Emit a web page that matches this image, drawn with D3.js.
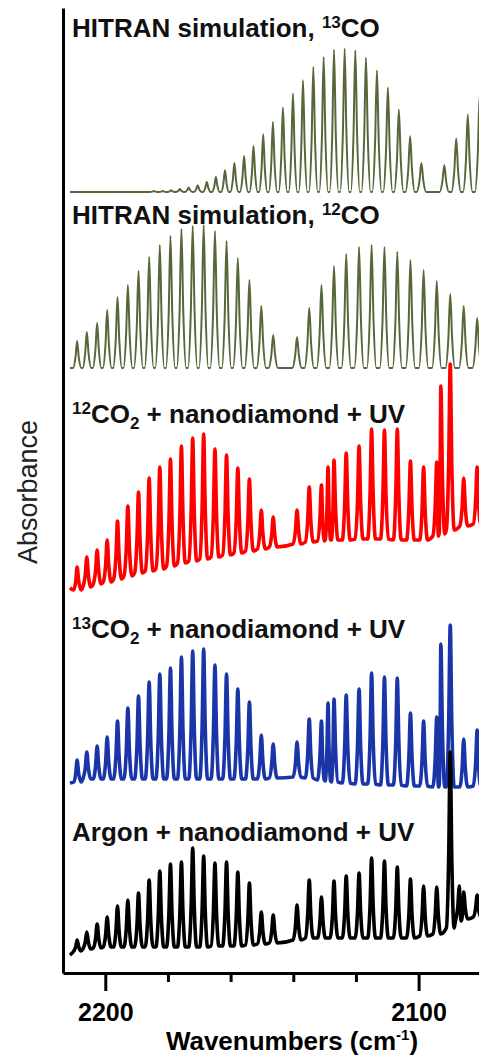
<!DOCTYPE html>
<html>
<head>
<meta charset="utf-8">
<script src="https://cdn.jsdelivr.net/npm/d3@7"></script>
<style>
  body { margin: 0; background: #fff; }
  svg { display: block; font-family: Arial, "Liberation Sans", sans-serif; }
</style>
</head>
<body>
<svg id="chart"></svg>
<script>
// x ticks (wavenumbers, cm-1)
const majorTicks = [2200, 2100];
const minorTicks = [2180, 2160, 2140, 2120, 2080];

// HITRAN 13CO line positions (R27..R0, P1..P5) and heights
const co13Lines = [2184.5, 2181.7, 2179.0, 2176.2, 2173.4, 2170.5, 2167.6, 2164.7, 2161.8, 2158.8,
  2155.7, 2152.7, 2149.6, 2146.5, 2143.3, 2140.1, 2136.9, 2133.6, 2130.3, 2127.0,
  2123.6, 2120.2, 2116.8, 2113.3, 2109.8, 2106.3, 2102.7, 2099.1,
  2091.8, 2088.0, 2084.3, 2080.5, 2076.7];
const co13Heights = [1, 1, 1.7, 3, 4.4, 6.7, 10, 15, 21.7, 29,
  36, 46, 57.7, 70, 84.4, 98.4, 111.7, 125, 135, 142.4,
  143.4, 141.7, 134.4, 121.7, 104.4, 82.4, 55.7, 29,
  26.7, 53.4, 77.4, 97, 110];
const co13Base = 781;

// HITRAN 12CO line positions (R18..R0, P1..P16) and heights
const co12Lines = [2209.0, 2205.9, 2202.6, 2199.4, 2196.1, 2192.8, 2189.4, 2186.0, 2182.6, 2179.2,
  2175.7, 2172.1, 2168.6, 2165.0, 2161.3, 2157.7, 2154.0, 2150.2, 2146.4,
  2138.8, 2134.9, 2131.0, 2127.0, 2123.1, 2119.0, 2115.0, 2110.9, 2106.8, 2102.6,
  2098.4, 2094.2, 2089.9, 2085.6, 2081.3, 2076.9];
const co12Heights = [27, 36, 45, 58, 71, 83, 97, 111, 123, 132,
  139, 142, 143, 137, 127, 110, 88, 62, 33,
  31, 60, 83, 102, 114, 121, 123, 121, 116, 108,
  98, 87, 74, 62, 50, 39];
const co12Base = 605;

// measured spectra: peak positions, peak tops, local floors, [start, end] levels
const expLines = [2209.0, 2205.9, 2202.6, 2199.4, 2196.1, 2192.8, 2189.4, 2186.0, 2182.6, 2179.2,
  2175.7, 2172.1, 2168.6, 2165.0, 2161.3, 2157.7, 2154.0, 2150.2, 2146.4,
  2138.8, 2134.9, 2131.0, 2128.9, 2127.0, 2123.1, 2119.0, 2115.0, 2110.9, 2106.8,
  2102.6, 2098.4, 2094.2, 2092.9, 2089.9, 2085.6, 2081.3];

const redTops = [406, 416, 423, 433, 452, 467, 481, 495, 506, 514,
  527, 535, 539, 524, 518, 505, 494, 463, 456,
  463, 486, 488, 506, 513, 520, 527, 544, 543, 544,
  512, 506, 511, 587, 609, 495, 506];
const redFloors = [383, 386, 389, 391, 394, 397, 400, 402, 404, 407,
  410, 412, 414, 416, 418, 420, 422, 424, 426,
  429, 431, 432, 433, 433, 433, 434, 434, 434, 433,
  433, 433, 437, 439, 443, 447, 449];
const redEnds = [385, 450];

const blueTops = [213, 221, 227, 236, 252, 265, 277, 291, 299, 305,
  316, 322, 324, 308, 299, 284, 271, 238, 229,
  231, 254, 252, 270, 274, 278, 284, 300, 296, 295,
  260, 252, 256, 329, 348, 234, 243];
const blueFloors = [191, 194, 194, 194, 194, 194, 194, 194, 194, 194,
  194, 194, 194, 194, 194, 194, 194, 194, 195,
  196, 195, 193, 192, 191, 190, 189, 189, 188, 188,
  187, 187, 186, 186, 186, 186, 187];
const blueEnds = [190, 187];

const argonLines = [2209.0, 2205.9, 2202.6, 2199.4, 2196.1, 2192.8, 2189.4, 2186.0, 2182.6, 2179.2,
  2175.7, 2172.1, 2168.6, 2165.0, 2161.3, 2157.7, 2154.0, 2150.2, 2146.4,
  2138.8, 2134.9, 2131.0, 2127.0, 2123.1, 2119.0, 2115.0, 2110.9, 2106.8, 2102.6,
  2098.4, 2094.2, 2089.9, 2087.0, 2085.6, 2081.3];
const argonTops = [33, 41, 49, 56, 67, 73, 80, 93, 102, 109,
  111, 125, 117, 110, 111, 101, 90, 61, 58,
  68, 93, 76, 92, 97, 100, 115, 112, 106, 94,
  87, 86, 221, 87, 81, 78];
const argonFloors = [22, 24, 25, 26, 26, 26, 26, 26, 26, 26,
  26, 26, 26, 27, 27, 27, 28, 29, 30,
  33, 35, 35, 35, 35, 35, 35, 35, 35, 35,
  37, 39, 45, 52, 54, 56];
const argonEnds = [18, 57];

const W = 479, H = 1057;
const svg = d3.select('#chart').attr('width', W).attr('height', H);

const x = d3.scaleLinear().domain([2213.5, 2075]).range([63, 63 + 138.5 * 3.133]);
const y = d3.scaleLinear().domain([0, 965]).range([973, 8]);
const wStart = 2211.3, wEnd = 2075;

// outline of one spectrum: foot, shoulder, apex, shoulder, foot for every line
function spectrum(lines, tops, floors, ends, hw) {
  const pts = [[wStart, ends[0]]];
  lines.forEach((w, i) => {
    const gapL = i > 0 ? (lines[i - 1] - w) / 2 : hw;
    const gapR = i < lines.length - 1 ? (w - lines[i + 1]) / 2 : hw;
    const l = Math.min(hw, gapL * 0.85), r = Math.min(hw, gapR * 0.85);
    const f = floors[i], t = tops[i];
    pts.push([w + l, f]);
    pts.push([w + l * 0.4, f + (t - f) * 0.4]);
    pts.push([w, t]);
    pts.push([w - r * 0.4, f + (t - f) * 0.4]);
    pts.push([w - r, f]);
  });
  pts.push([wEnd, ends[1]]);
  return pts;
}

const line = d3.line()
  .x(d => x(d[0]))
  .y(d => y(d[1]))
  .curve(d3.curveMonotoneX);

const traces = [
  { pts: spectrum(co13Lines, co13Heights.map(h => co13Base + h), co13Lines.map(() => co13Base), [co13Base, co13Base], 1.5), color: '#56683a', width: 2 },
  { pts: spectrum(co12Lines, co12Heights.map(h => co12Base + h), co12Lines.map(() => co12Base), [co12Base, co12Base], 1.5), color: '#56683a', width: 2 },
  { pts: spectrum(expLines, redTops, redFloors, redEnds, 1.25), color: '#ff0000', width: 3.6 },
  { pts: spectrum(expLines, blueTops, blueFloors, blueEnds, 1.25), color: '#1a35a8', width: 3.6 },
  { pts: spectrum(argonLines, argonTops, argonFloors, argonEnds, 1.25), color: '#000000', width: 3.6 }
];

svg.append('g').selectAll('path')
  .data(traces)
  .join('path')
  .attr('d', d => line(d.pts))
  .attr('fill', 'none')
  .attr('stroke', d => d.color)
  .attr('stroke-width', d => d.width)
  .attr('stroke-linejoin', 'round');

// axes
const xAxis = svg.append('g')
  .attr('transform', `translate(0, ${y(0)})`)
  .call(d3.axisBottom(x).tickValues(majorTicks).tickFormat(d3.format('d'))
    .tickSize(18).tickPadding(12).tickSizeOuter(0));
xAxis.selectAll('text')
  .attr('fill', '#000').attr('font-size', 25).attr('font-weight', 'bold')
  .attr('font-family', 'Arial, "Liberation Sans", sans-serif');

svg.append('g')
  .attr('transform', `translate(0, ${y(0)})`)
  .call(d3.axisBottom(x).tickValues(minorTicks).tickSize(9).tickFormat(''))
  .call(g => g.select('.domain').remove());

svg.append('g')
  .attr('transform', `translate(${x.range()[0]}, 0)`)
  .call(d3.axisLeft(y).tickValues([]).tickSizeOuter(0));

svg.selectAll('.domain, .tick line')
  .attr('stroke', '#000').attr('stroke-width', 3);

// axis titles
svg.append('text')
  .attr('transform', 'translate(37, 492) rotate(-90)')
  .attr('text-anchor', 'middle')
  .attr('font-size', 27)
  .attr('fill', '#222')
  .text('Absorbance');

const xt = svg.append('text')
  .attr('x', 292).attr('y', 1050)
  .attr('text-anchor', 'middle')
  .attr('font-size', 26).attr('font-weight', 'bold');
xt.append('tspan').text('Wavenumbers (cm');
xt.append('tspan').attr('font-size', 15).attr('dy', -10).text('-1');
xt.append('tspan').attr('dy', 10).text(')');

// trace labels
const labels = [
  { y: 37, parts: [['HITRAN simulation, ', ''], ['13', 'sup'], ['CO', '']] },
  { y: 224, parts: [['HITRAN simulation, ', ''], ['12', 'sup'], ['CO', '']] },
  { y: 423, parts: [['12', 'sup'], ['CO', ''], ['2', 'sub'], [' + nanodiamond + UV', '']] },
  { y: 638, parts: [['13', 'sup'], ['CO', ''], ['2', 'sub'], [' + nanodiamond + UV', '']] },
  { y: 841, parts: [['Argon + nanodiamond + UV', '']] }
];

labels.forEach(l => {
  const t = svg.append('text')
    .attr('x', 72).attr('y', l.y)
    .attr('font-size', 26).attr('font-weight', 'bold').attr('fill', '#111');
  let shift = 0;
  l.parts.forEach(([s, kind]) => {
    const target = kind === 'sup' ? -9 : kind === 'sub' ? 6 : 0;
    const ts = t.append('tspan').attr('dy', target - shift).text(s);
    if (kind) ts.attr('font-size', 17);
    shift = target;
  });
});
</script>
</body>
</html>
